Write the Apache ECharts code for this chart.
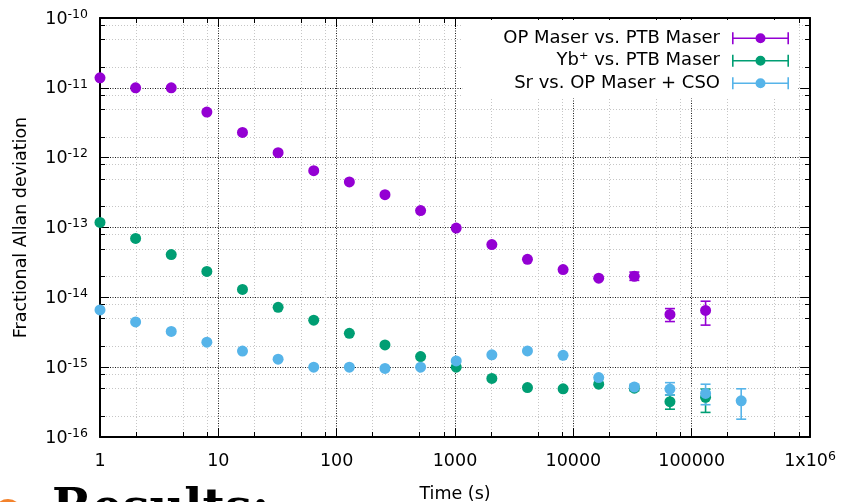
<!DOCTYPE html>
<html>
<head>
<meta charset="utf-8">
<script src="https://cdn.jsdelivr.net/npm/echarts@6/dist/echarts.min.js"></script>
<style>
  html, body { margin: 0; padding: 0; background: #fff; }
  #chart { width: 842px; height: 502px; }
</style>
</head>
<body>
<div id="chart"></div>
<script>
// averaging time (s)
const tau = [1, 2, 4, 8, 16, 32, 64, 128, 256, 512, 1024, 2048, 4096, 8192, 16384, 32768, 65536, 131072, 262144];

const seriesNames = ["OP Maser vs. PTB Maser", "Yb\u207A vs. PTB Maser", "Sr vs. OP Maser + CSO"];
const seriesColors = ["#9400d3", "#009e73", "#56b4e9"];

const opMaser = [1.39e-11, 1.0e-11, 1.0e-11, 4.5e-12, 2.3e-12, 1.18e-12, 6.5e-13, 4.5e-13, 2.95e-13, 1.75e-13,
  9.8e-14, 5.7e-14, 3.5e-14, 2.5e-14, 1.88e-14, 2.0e-14, 5.7e-15, 6.5e-15];
const opMaserLow = [null, null, null, null, null, null, null, null, null, null,
  null, null, null, null, null, 1.75e-14, 4.5e-15, 4.0e-15];
const opMaserHigh = [null, null, null, null, null, null, null, null, null, null,
  null, null, null, null, null, 2.3e-14, 6.9e-15, 8.8e-15];

const ybMaser = [1.18e-13, 6.97e-14, 4.1e-14, 2.35e-14, 1.3e-14, 7.2e-15, 4.7e-15, 3.05e-15, 2.08e-15, 1.42e-15,
  1.0e-15, 6.9e-16, 5.1e-16, 4.9e-16, 5.7e-16, 5.0e-16, 3.2e-16, 3.7e-16];
const ybMaserLow = [null, null, null, null, null, null, null, null, null, null,
  null, null, null, null, null, 4.6e-16, 2.5e-16, 2.25e-16];
const ybMaserHigh = [null, null, null, null, null, null, null, null, null, null,
  null, null, null, null, null, 5.4e-16, 4.0e-16, 4.85e-16];

const srCso = [6.6e-15, 4.45e-15, 3.25e-15, 2.28e-15, 1.7e-15, 1.3e-15, 1.0e-15, 1.0e-15, 9.6e-16, 1.0e-15,
  1.23e-15, 1.5e-15, 1.71e-15, 1.48e-15, 7.1e-16, 5.2e-16, 4.85e-16, 4.2e-16, 3.3e-16];
const srCsoLow = [null, null, null, null, null, null, null, null, null, null,
  null, null, null, null, null, 4.7e-16, 4.0e-16, 2.9e-16, 1.8e-16];
const srCsoHigh = [null, null, null, null, null, null, null, null, null, null,
  null, null, null, null, null, 5.7e-16, 6.0e-16, 5.7e-16, 4.9e-16];

// minor ticks inside every decade
const minorSteps = [2, 5, 8];
const xDecades = [1, 10, 100, 1000, 10000, 100000];
const yDecades = [1e-16, 1e-15, 1e-14, 1e-13, 1e-12, 1e-11];

const FONT = "DejaVu Sans";

const chart = echarts.init(document.getElementById("chart"), null, {renderer: "canvas"});

function points(vals) {
  return vals.map((v, i) => [tau[i], v]);
}

function bars(low, high) {
  const out = [];
  low.forEach((l, i) => {
    if (l != null && high[i] != null) {out.push([tau[i], l, high[i]]);}
  });
  return out;
}

function renderErrorBar(color) {
  return function(params, api) {
    const lo = api.coord([api.value(0), api.value(1)]);
    const hi = api.coord([api.value(0), api.value(2)]);
    const x = lo[0];
    const w = 5;
    const style = {stroke: color, lineWidth: 1.6};
    return {
      type: "group",
      children: [
        {type: "line", shape: {x1: x, y1: lo[1], x2: x, y2: hi[1]}, style: style},
        {type: "line", shape: {x1: x - w, y1: lo[1], x2: x + w, y2: lo[1]}, style: style},
        {type: "line", shape: {x1: x - w, y1: hi[1], x2: x + w, y2: hi[1]}, style: style},
      ],
    };
  };
}

const minorData = [];
xDecades.forEach((d) => minorSteps.forEach((m) => minorData.push([m * d, 1e-13, 0])));
yDecades.forEach((d) => minorSteps.forEach((m) => minorData.push([10, m * d, 1])));

function renderMinor(params, api) {
  const cs = params.coordSys;
  const kind = api.value(2);
  const grid = {stroke: "#c6c6c6", lineWidth: 1, lineDash: [1, 2]};
  const tick = {stroke: "#000", lineWidth: 1};
  if (kind === 0) {
    const x = Math.round(api.coord([api.value(0), 1e-13])[0]) + 0.5;
    const b = cs.y + cs.height;
    return {
      type: "group",
      children: [
        {type: "line", shape: {x1: x, y1: cs.y, x2: x, y2: b}, style: grid},
        {type: "line", shape: {x1: x, y1: b, x2: x, y2: b - 5}, style: tick},
        {type: "line", shape: {x1: x, y1: cs.y, x2: x, y2: cs.y + 5}, style: tick},
      ],
    };
  }
  const y = Math.round(api.coord([10, api.value(1)])[1]) + 0.5;
  const r = cs.x + cs.width;
  return {
    type: "group",
    children: [
      {type: "line", shape: {x1: cs.x, y1: y, x2: r, y2: y}, style: grid},
      {type: "line", shape: {x1: cs.x, y1: y, x2: cs.x + 5, y2: y}, style: tick},
      {type: "line", shape: {x1: r, y1: y, x2: r - 5, y2: y}, style: tick},
    ],
  };
}

const supRich = {
  b: {fontFamily: FONT, fontSize: 17.5, color: "#000", lineHeight: 20, verticalAlign: "bottom"},
  s: {fontFamily: FONT, fontSize: 12.5, color: "#000", lineHeight: 11, verticalAlign: "top"},
};

function yLabel(v) {
  const e = Math.round(Math.log10(v));
  return "{b|10}{s|" + e + "}";
}

function xLabel(v) {
  const e = Math.round(Math.log10(v));
  if (e >= 6) {return "{b|1x10}{s|" + e + "}";}
  return "{b|" + Math.round(Math.pow(10, e)) + "}";
}

const axisLine = {show: true, lineStyle: {color: "#000", width: 2}};
const majorTick = {show: true, inside: true, length: 9, lineStyle: {color: "#000", width: 1}};
const majorGrid = {show: true, lineStyle: {color: "#1a1a1a", width: 1, type: [1, 1.5]}};

// legend key: horizontal error bar with a dot in the middle
const errIcon = "path://M0,0h1.6v5.2h53.8v-5.2h1.6v12h-1.6v-5.2h-53.8v5.2h-1.6z" +
  "M23.5,6a5,5 0 1,1 10,0a5,5 0 1,1 -10,0z";

const option = {
  animation: false,
  backgroundColor: "#fff",
  grid: {left: 100, right: 32, top: 18, bottom: 65, containLabel: false, outerBoundsMode: "none"},
  legend: {
    data: seriesNames,
    orient: "vertical",
    align: "right",
    right: 44,
    top: 20,
    padding: [7, 9, 4, 41],
    backgroundColor: "#fff",
    itemWidth: 57,
    itemHeight: 12,
    itemGap: 0,
    icon: errIcon,
    selectedMode: false,
    textStyle: {fontFamily: FONT, fontSize: 18, color: "#000", lineHeight: 22.5, padding: [0, 7, 0, 0]},
  },
  xAxis: [
    {
      type: "log",
      logBase: 10,
      min: 1,
      max: 1e6,
      name: "Time (s)",
      nameLocation: "middle",
      nameGap: 48,
      nameTextStyle: {fontFamily: FONT, fontSize: 17.5, color: "#000"},
      axisLine: axisLine,
      axisTick: majorTick,
      splitLine: majorGrid,
      axisLabel: {margin: 13, formatter: xLabel, rich: supRich},
    },
    {
      type: "log",
      logBase: 10,
      min: 1,
      max: 1e6,
      position: "top",
      axisLine: axisLine,
      axisTick: majorTick,
      splitLine: {show: false},
      axisLabel: {show: false},
    },
  ],
  yAxis: [
    {
      type: "log",
      logBase: 10,
      min: 1e-16,
      max: 1e-10,
      name: "Fractional Allan deviation",
      nameLocation: "middle",
      nameGap: 70,
      nameTextStyle: {fontFamily: FONT, fontSize: 17.5, color: "#000"},
      axisLine: axisLine,
      axisTick: majorTick,
      splitLine: majorGrid,
      axisLabel: {margin: 12, formatter: yLabel, rich: supRich},
    },
    {
      type: "log",
      logBase: 10,
      min: 1e-16,
      max: 1e-10,
      position: "right",
      axisLine: axisLine,
      axisTick: majorTick,
      splitLine: {show: false},
      axisLabel: {show: false},
    },
  ],
  graphic: [
    {
      type: "circle",
      shape: {cx: 8, cy: 513, r: 14},
      style: {fill: "#f3822b"},
    },
    {
      type: "text",
      x: 52,
      y: 511,
      style: {
        text: "Results:",
        font: "bold 48px \"DejaVu Serif\"",
        fill: "#000",
        verticalAlign: "middle",
      },
    },
  ],
  series: [
    {
      type: "custom",
      name: "minor",
      renderItem: renderMinor,
      data: minorData,
      z: 1,
      silent: true,
    },
    {type: "scatter", name: seriesNames[0], data: points(opMaser), symbolSize: 11, clip: false, z: 4,
      itemStyle: {color: seriesColors[0], opacity: 1}},
    {type: "scatter", name: seriesNames[1], data: points(ybMaser), symbolSize: 11, clip: false, z: 4,
      itemStyle: {color: seriesColors[1], opacity: 1}},
    {type: "scatter", name: seriesNames[2], data: points(srCso), symbolSize: 11, clip: false, z: 4,
      itemStyle: {color: seriesColors[2], opacity: 1}},
    {type: "custom", name: seriesNames[0], renderItem: renderErrorBar(seriesColors[0]),
      data: bars(opMaserLow, opMaserHigh), encode: {x: 0, y: [1, 2]}, z: 3},
    {type: "custom", name: seriesNames[1], renderItem: renderErrorBar(seriesColors[1]),
      data: bars(ybMaserLow, ybMaserHigh), encode: {x: 0, y: [1, 2]}, z: 3},
    {type: "custom", name: seriesNames[2], renderItem: renderErrorBar(seriesColors[2]),
      data: bars(srCsoLow, srCsoHigh), encode: {x: 0, y: [1, 2]}, z: 3},
  ],
};

chart.setOption(option);
</script>
</body>
</html>
